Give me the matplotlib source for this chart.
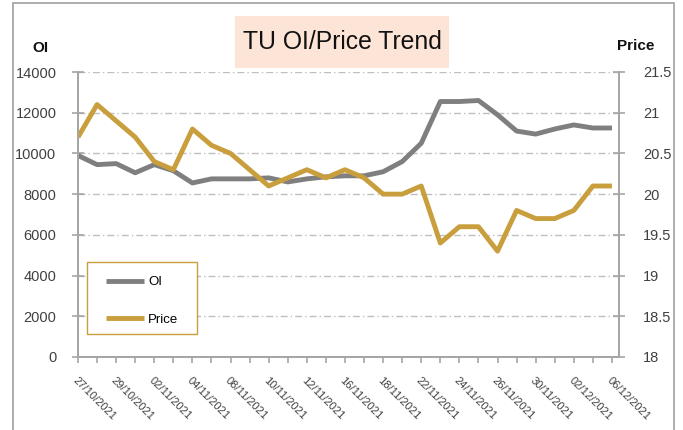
"""TU open interest vs price, 27/10/2021 - 06/12/2021."""
import numpy as np
import matplotlib
matplotlib.use("Agg")
import matplotlib.pyplot as plt
from matplotlib.patches import Rectangle
from matplotlib.ticker import FuncFormatter

plt.rcParams["font.family"] = ["Liberation Sans", "DejaVu Sans"]

dates = ["27/10/2021", "28/10/2021", "29/10/2021", "01/11/2021", "02/11/2021",
         "03/11/2021", "04/11/2021", "05/11/2021", "08/11/2021", "09/11/2021",
         "10/11/2021", "11/11/2021", "12/11/2021", "15/11/2021", "16/11/2021",
         "17/11/2021", "18/11/2021", "19/11/2021", "22/11/2021", "23/11/2021",
         "24/11/2021", "25/11/2021", "26/11/2021", "29/11/2021", "30/11/2021",
         "01/12/2021", "02/12/2021", "03/12/2021", "06/12/2021"]
oi = [9900, 9450, 9500, 9050, 9450, 9150, 8550, 8750, 8750, 8750,
      8800, 8600, 8750, 8850, 8900, 8900, 9100, 9600, 10500, 12550,
      12550, 12600, 11900, 11100, 10950, 11200, 11400, 11250, 11250]
price = [20.7, 21.1, 20.9, 20.7, 20.4, 20.3, 20.8, 20.6, 20.5, 20.3,
         20.1, 20.2, 20.3, 20.2, 20.3, 20.2, 20.0, 20.0, 20.1, 19.4,
         19.6, 19.6, 19.3, 19.8, 19.7, 19.7, 19.8, 20.1, 20.1]
oi_ticks = [0, 2000, 4000, 6000, 8000, 10000, 12000, 14000]
price_ticks = [18, 18.5, 19, 19.5, 20, 20.5, 21, 21.5]

W, H = 683, 430
GREY = "#7F7F7F"
GOLD = "#C99F3D"
AXC = "#A6A6A6"
TXT = "#404040"

fig = plt.figure(figsize=(W / 100, H / 100), dpi=100)

# outer frame and title box
fig.patches.append(Rectangle((13 / W, -0.01), 661 / W, 1 - 3 / H + 0.01,
                             transform=fig.transFigure, fill=False,
                             edgecolor="#A0A0A0", lw=1.2))
fig.patches.append(Rectangle((235 / W, 1 - 68 / H), 214 / W, 52 / H,
                             transform=fig.transFigure, facecolor="#FCE4D6",
                             edgecolor="none"))
fig.text(342 / W, 1 - 42 / H, "TU OI/Price Trend", fontsize=17.8,
         ha="center", va="center", color="#111111")
fig.text(40 / W, 1 - 48 / H, "OI", fontsize=11, fontweight="bold",
         ha="center", va="center", color="#111111")
fig.text(636 / W, 1 - 46 / H, "Price", fontsize=11, fontweight="bold",
         ha="center", va="center", color="#111111")

ax = fig.add_axes([78 / W, 1 - 357 / H, (619 - 78) / W, (357 - 72) / H])
ax2 = ax.twinx()

x = np.arange(len(dates))
l1, = ax.plot(x, oi, color=GREY, lw=3.5, solid_capstyle="butt", label="OI")
l2, = ax2.plot(x, price, color=GOLD, lw=3.5, solid_capstyle="butt", label="Price")

ax.set_xlim(0, 28.37)
ax.set_ylim(0, 14000)
ax2.set_ylim(18, 21.5)
ax.set_yticks(oi_ticks)
ax2.set_yticks(price_ticks)
ax2.yaxis.set_major_formatter(FuncFormatter(lambda v, _: f"{v:g}"))

ax.set_xticks(x)
ax.set_xticklabels([d if i % 2 == 0 else "" for i, d in enumerate(dates)],
                   rotation=-45, ha="left", va="top", rotation_mode="anchor",
                   fontsize=8, color=TXT)

ax.yaxis.grid(True, color="#BFBFBF", lw=1, linestyle=(0, (5, 2.2, 1, 2.2)))
ax.set_axisbelow(True)

for a in (ax, ax2):
    a.spines["top"].set_visible(False)
    for s in ("left", "right", "bottom"):
        a.spines[s].set_color(AXC)
        a.spines[s].set_linewidth(1.3)
    a.tick_params(axis="y", direction="inout", length=8, width=1.2,
                  color=AXC, labelsize=10.5, labelcolor=TXT)
ax.tick_params(axis="y", pad=11.5)
ax2.tick_params(axis="y", pad=13.5)
ax.tick_params(axis="x", direction="out", length=4, width=1.2, color=AXC, pad=9)

# legend: white box with gold border, entries placed inside it
ax2.add_patch(Rectangle((87 / W, 1 - 334 / H), 110 / W, 72 / H,
                        transform=fig.transFigure, facecolor="white",
                        edgecolor=GOLD, lw=1.0, zorder=4, clip_on=False))
leg = ax2.legend(handles=[l1, l2], loc="upper left",
                 bbox_to_anchor=(106 / W, 1 - 276 / H),
                 bbox_transform=fig.transFigure, borderaxespad=0, borderpad=0,
                 fontsize=9.5, handlelength=2.9, handletextpad=0.3,
                 labelspacing=1.9, frameon=False)
leg.set_zorder(6)

fig.savefig("out.png", dpi=100)
